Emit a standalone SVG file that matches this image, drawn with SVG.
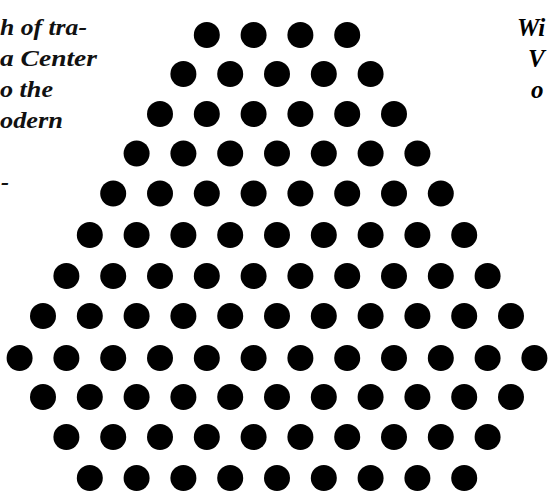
<svg xmlns="http://www.w3.org/2000/svg" xmlns:xlink="http://www.w3.org/1999/xlink" width="548" height="495" viewBox="0 0 548 495">
<style>
.t{font-family:"Liberation Serif","Times New Roman",serif;font-style:italic;font-weight:bold;font-size:24px;fill:#111}
.tr{font-family:"Liberation Serif","Times New Roman",serif;font-style:italic;font-weight:bold;font-size:25px;fill:#000}
</style>
<defs>
<circle id="d" r="13" fill="#000"/>
</defs>
<rect width="548" height="495" fill="#fff"/>
<g id="text-left">
<text class="t" x="0" y="35" textLength="87" lengthAdjust="spacingAndGlyphs">h of tra-</text>
<text class="t" x="0" y="66" textLength="97" lengthAdjust="spacingAndGlyphs">a Center</text>
<text class="t" x="0" y="97" textLength="53" lengthAdjust="spacingAndGlyphs">o the</text>
<text class="t" x="0" y="128" textLength="63" lengthAdjust="spacingAndGlyphs">odern</text>
<text class="t" x="1" y="190">-</text>
</g>
<g id="text-right">
<text class="tr" x="517" y="36">Wi</text>
<text class="tr" x="528" y="67">V</text>
<text class="tr" x="531" y="98">o</text>
</g>
<g id="dots">
<g id="row0" transform="translate(0,35)"><use href="#d" x="206.8"/><use href="#d" x="253.6"/><use href="#d" x="300.4"/><use href="#d" x="347.2"/></g>
<g id="row1" transform="translate(0,74)"><use href="#d" x="183.4"/><use href="#d" x="230.2"/><use href="#d" x="277"/><use href="#d" x="323.8"/><use href="#d" x="370.6"/></g>
<g id="row2" transform="translate(0,114)"><use href="#d" x="160"/><use href="#d" x="206.8"/><use href="#d" x="253.6"/><use href="#d" x="300.4"/><use href="#d" x="347.2"/><use href="#d" x="394"/></g>
<g id="row3" transform="translate(0,153.5)"><use href="#d" x="136.6"/><use href="#d" x="183.4"/><use href="#d" x="230.2"/><use href="#d" x="277"/><use href="#d" x="323.8"/><use href="#d" x="370.6"/><use href="#d" x="417.4"/></g>
<g id="row4" transform="translate(0,193.5)"><use href="#d" x="113.2"/><use href="#d" x="160"/><use href="#d" x="206.8"/><use href="#d" x="253.6"/><use href="#d" x="300.4"/><use href="#d" x="347.2"/><use href="#d" x="394"/><use href="#d" x="440.8"/></g>
<g id="row5" transform="translate(0,235)"><use href="#d" x="89.8"/><use href="#d" x="136.6"/><use href="#d" x="183.4"/><use href="#d" x="230.2"/><use href="#d" x="277"/><use href="#d" x="323.8"/><use href="#d" x="370.6"/><use href="#d" x="417.4"/><use href="#d" x="464.2"/></g>
<g id="row6" transform="translate(0,276)"><use href="#d" x="66.4"/><use href="#d" x="113.2"/><use href="#d" x="160"/><use href="#d" x="206.8"/><use href="#d" x="253.6"/><use href="#d" x="300.4"/><use href="#d" x="347.2"/><use href="#d" x="394"/><use href="#d" x="440.8"/><use href="#d" x="487.6"/></g>
<g id="row7" transform="translate(0,316)"><use href="#d" x="43"/><use href="#d" x="89.8"/><use href="#d" x="136.6"/><use href="#d" x="183.4"/><use href="#d" x="230.2"/><use href="#d" x="277"/><use href="#d" x="323.8"/><use href="#d" x="370.6"/><use href="#d" x="417.4"/><use href="#d" x="464.2"/><use href="#d" x="511"/></g>
<g id="row8" transform="translate(0,358)"><use href="#d" x="19.6"/><use href="#d" x="66.4"/><use href="#d" x="113.2"/><use href="#d" x="160"/><use href="#d" x="206.8"/><use href="#d" x="253.6"/><use href="#d" x="300.4"/><use href="#d" x="347.2"/><use href="#d" x="394"/><use href="#d" x="440.8"/><use href="#d" x="487.6"/><use href="#d" x="534.4"/></g>
<g id="row9" transform="translate(0,397)"><use href="#d" x="43"/><use href="#d" x="89.8"/><use href="#d" x="136.6"/><use href="#d" x="183.4"/><use href="#d" x="230.2"/><use href="#d" x="277"/><use href="#d" x="323.8"/><use href="#d" x="370.6"/><use href="#d" x="417.4"/><use href="#d" x="464.2"/><use href="#d" x="511"/></g>
<g id="row10" transform="translate(0,437)"><use href="#d" x="66.4"/><use href="#d" x="113.2"/><use href="#d" x="160"/><use href="#d" x="206.8"/><use href="#d" x="253.6"/><use href="#d" x="300.4"/><use href="#d" x="347.2"/><use href="#d" x="394"/><use href="#d" x="440.8"/><use href="#d" x="487.6"/></g>
<g id="row11" transform="translate(0,478)"><use href="#d" x="89.8"/><use href="#d" x="136.6"/><use href="#d" x="183.4"/><use href="#d" x="230.2"/><use href="#d" x="277"/><use href="#d" x="323.8"/><use href="#d" x="370.6"/><use href="#d" x="417.4"/><use href="#d" x="464.2"/></g>
</g>
</svg>
